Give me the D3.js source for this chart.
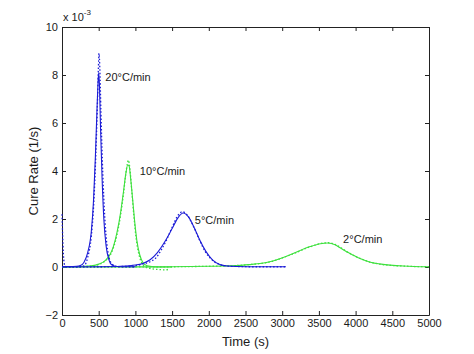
<!DOCTYPE html>
<html><head><meta charset="utf-8">
<script src="https://cdn.jsdelivr.net/npm/d3@7"></script>
<style>
body{margin:0;background:#fff;}
text{font-family:"Liberation Sans",Arial,sans-serif;fill:#1a1a1a;}
</style></head>
<body><svg id="chart" width="474" height="354"></svg>
<script>
// ---- data (cure rate in units of 1e-3 1/s) ----
const xTicks = [0,500,1000,1500,2000,2500,3000,3500,4000,4500,5000];
const yTicks = [-2,0,2,4,6,8,10];

const t20 = [0,100,200,250,300,350,400,430,455,475,490,500,510,525,545,570,600,640,680,750,850,1000];
const model20 = [0.02,0.02,0.03,0.06,0.2,0.6,1.5,2.8,4.6,6.4,7.6,8.1,7.6,5.8,3.8,2.0,0.9,0.3,0.08,0.02,0.01,0.01];
const tExp20 = [0,8,18,30,45,100,200,300,350,400,430,460,480,495,505,515,530,550,575,600,640,690,750,1000];
const exp20 = [2.2,1.4,0.6,0.15,0.03,0.01,0.01,0.05,0.4,1.3,2.5,4.6,6.5,8.2,8.9,8.3,6.5,4.4,2.5,1.3,0.4,0.1,0.02,0.0];

const t10 = [0,200,400,500,600,650,700,750,800,840,870,895,915,935,960,990,1020,1060,1100,1160,1250,1400,1500];
const model10 = [0,0.01,0.05,0.12,0.3,0.5,0.85,1.45,2.3,3.2,3.9,4.25,4.2,3.7,2.9,1.9,1.1,0.5,0.2,0.05,0.01,0,0];
const tExp10 = [0,200,400,500,600,650,700,750,800,840,870,890,905,925,950,980,1010,1050,1100,1150,1200,1300,1400,1450];
const exp10 = [0,0.01,0.04,0.1,0.28,0.45,0.8,1.35,2.2,3.1,3.9,4.3,4.45,4.1,3.2,2.1,1.2,0.5,0.1,-0.02,-0.06,-0.1,-0.12,-0.1];

const t5 = [0,500,800,1000,1100,1200,1300,1400,1500,1580,1650,1720,1800,1880,1960,2050,2150,2250,2400,2600,3050];
const model5 = [0,0.01,0.03,0.08,0.15,0.3,0.6,1.05,1.6,2.05,2.25,2.1,1.65,1.1,0.65,0.3,0.1,0.04,0.02,0.01,0.01];
const tExp5 = [0,500,800,1000,1100,1200,1280,1350,1420,1500,1570,1640,1710,1790,1870,1950,2050,2150,2250,2400,2600,3050];
const exp5 = [0,0.01,0.02,0.06,0.12,0.22,0.38,0.7,1.1,1.65,2.1,2.3,2.15,1.7,1.15,0.65,0.28,0.1,0.04,0.02,0.01,0.01];

const t2 = [0,1000,1500,2000,2300,2550,2830,3100,3380,3520,3620,3720,3790,3900,4060,4200,4350,4470,4650,4800,5000];
const model2 = [0,0.005,0.01,0.03,0.05,0.1,0.22,0.5,0.85,0.97,1.0,0.93,0.8,0.6,0.35,0.2,0.12,0.08,0.04,0.02,0.01];
const tExp2 = [0,1000,1500,2000,2300,2550,2830,3100,3380,3520,3630,3720,3800,3900,4060,4200,4350,4470,4650,4800,5000];
const exp2 = [0,0.005,0.01,0.03,0.05,0.1,0.21,0.49,0.84,0.98,1.01,0.94,0.8,0.6,0.36,0.2,0.11,0.07,0.04,0.02,0.01];

const labels = [
  {text:"20°C/min", t:590, v:7.9},
  {text:"10°C/min", t:1060, v:4.0},
  {text:"5°C/min", t:1810, v:1.95},
  {text:"2°C/min", t:3830, v:1.15}
];

const BLUE = "#1c1cd6", GREEN = "#3ee03e";

// ---- layout ----
const svg = d3.select("#chart");
const W = 474, H = 354;
const m = {left:62, right:45, top:27, bottom:39};
const x = d3.scaleLinear().domain([0,5000]).range([m.left, W-m.right]);
const y = d3.scaleLinear().domain([-2,10]).range([H-m.bottom, m.top]);

const axColor = "#222";
function styleAxis(g){
  g.selectAll(".domain").attr("stroke",axColor);
  g.selectAll(".tick line").attr("stroke",axColor);
  g.selectAll("text").attr("font-size","11px").attr("font-family","Liberation Sans, Arial, sans-serif").attr("fill","#1a1a1a");
}
svg.append("g").attr("transform",`translate(0,${H-m.bottom})`)
  .call(d3.axisBottom(x).tickValues(xTicks).tickFormat(d3.format("d")).tickSize(-4).tickSizeOuter(0).tickPadding(4))
  .call(styleAxis);
svg.append("g").attr("transform",`translate(0,${m.top})`)
  .call(d3.axisTop(x).tickValues(xTicks).tickFormat("").tickSize(-4).tickSizeOuter(0))
  .call(styleAxis);
svg.append("g").attr("transform",`translate(${m.left},0)`)
  .call(d3.axisLeft(y).tickValues(yTicks).tickFormat(d3.format("d")).tickSize(-4).tickSizeOuter(0).tickPadding(4))
  .call(styleAxis);
svg.append("g").attr("transform",`translate(${W-m.right},0)`)
  .call(d3.axisRight(y).tickValues(yTicks).tickFormat("").tickSize(-4).tickSizeOuter(0))
  .call(styleAxis);

// ---- curves ----
const line = d3.line().x(d=>x(d[0])).y(d=>y(d[1])).curve(d3.curveMonotoneX);
function series(ts, vs, color, dotted){
  svg.append("path").datum(d3.zip(ts, vs))
    .attr("d", line).attr("fill","none").attr("stroke",color)
    .attr("stroke-width", dotted?1.3:1.1)
    .attr("stroke-dasharray", dotted?"1.5,2":null);
}
series(t2, model2, GREEN, false);
series(tExp2, exp2, GREEN, true);
series(t10, model10, GREEN, false);
series(tExp10, exp10, GREEN, true);
series(t5, model5, BLUE, false);
series(tExp5, exp5, BLUE, true);
series(t20, model20, BLUE, false);
series(tExp20, exp20, BLUE, true);

// ---- labels ----
labels.forEach(l=>{
  svg.append("text").attr("x",x(l.t)).attr("y",y(l.v)).attr("dy","0.35em")
    .attr("font-size","11px").text(l.text);
});

const mult = svg.append("text").attr("x",63).attr("y",21).attr("font-size","11px");
mult.append("tspan").text("x 10");
mult.append("tspan").attr("dy",-6).attr("font-size","8px").text("-3");

svg.append("text").attr("x",(m.left+W-m.right)/2).attr("y",346).attr("text-anchor","middle")
  .attr("font-size","13px").text("Time (s)");
svg.append("text").attr("transform",`translate(38,${(m.top+H-m.bottom)/2}) rotate(-90)`)
  .attr("text-anchor","middle").attr("font-size","13px").text("Cure Rate (1/s)");
</script></body></html>
